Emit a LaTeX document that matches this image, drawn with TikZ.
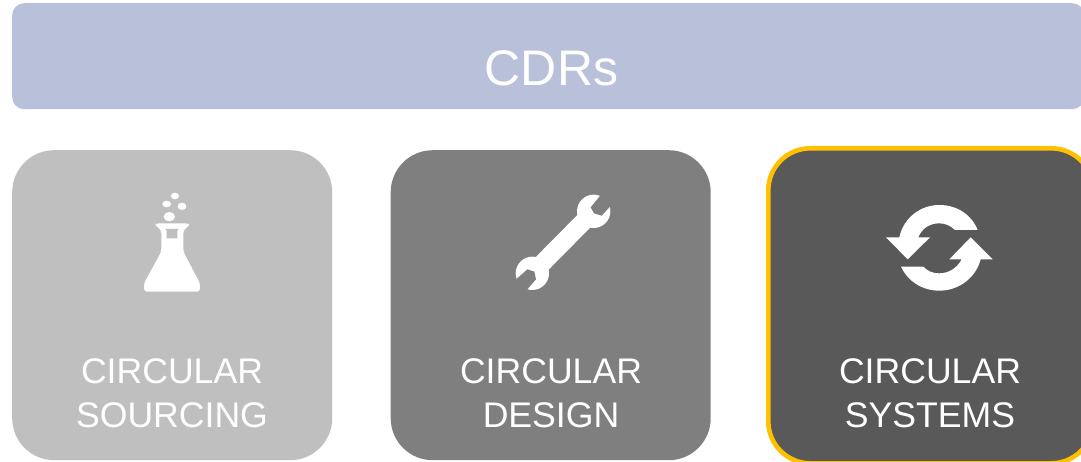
\documentclass[tikz,border=0pt]{standalone}
\usepackage{fontspec}
\setmainfont{Liberation Sans}
\definecolor{barc}{HTML}{B9C1DA}
\definecolor{lightc}{HTML}{BFBFBF}
\definecolor{midc}{HTML}{7F7F7F}
\definecolor{darkc}{HTML}{595959}
\definecolor{goldc}{HTML}{FFC000}
\tikzset{
  panel/.style={rounded corners=42pt,minimum width=320pt,minimum height=310pt,inner sep=0pt,anchor=north west},
  topbar/.style={rounded corners=12pt,fill=barc,minimum width=1072pt,minimum height=106pt,inner sep=0pt,anchor=north west},
  captext/.style={text=white,align=center,inner sep=0pt,font=\fontsize{35.6}{44}\selectfont},
  titletext/.style={text=white,inner sep=0pt,anchor=base,font=\fontsize{50}{60}\selectfont},
  icon/.style={fill=white,draw=none}
}
\begin{document}
\begin{tikzpicture}[x=1pt,y=-1pt]
\useasboundingbox (0,0) rectangle (1081,462);
\clip (0,0) rectangle (1081,462);
\node[topbar] (top) at (12,3) {};
\node[titletext] (cdrs) at (551.5,86) {CDRs};
\node[panel,fill=lightc] (p1) at (12,150) {};
\node[panel,fill=midc] (p2) at (390.5,150) {};
\node[panel,fill=darkc,draw=goldc,line width=4.6pt,minimum width=325pt,minimum height=315pt] (p3) at (766,146) {};
\node[captext] (c1) at (172,393) {CIRCULAR\\SOURCING};
\node[captext] (c2) at (551,393) {CIRCULAR\\DESIGN};
\node[captext] (c3) at (930,393) {CIRCULAR\\SYSTEMS};
% flask
\begin{scope}[shift={(120,180)},x=0.3333pt,y=-0.3333pt]
\fill[icon] (165,48) ellipse (12 and 10);
\fill[icon] (140,72) ellipse (13 and 10);
\fill[icon] (186,79) ellipse (13 and 11);
\fill[icon] (148,110) ellipse (17 and 14);
\fill[icon,rounded corners=3pt] (107,130) -- (207,130) -- (207,138) -- (190,150) -- (190,215) -- (240,310) -- (240,335) -- (72,335) -- (72,310) -- (124,215) -- (124,150) -- (107,138) -- cycle;
\fill[lightc] (136,147) -- (176,147) -- (172,152) -- (172,175) -- (140,175) -- (140,152) -- cycle;
\end{scope}
% wrench
\begin{scope}[shift={(500,180)},x=0.3333pt,y=-0.3333pt]
\draw[white,line width=18pt] (97,280) -- (282,93);
\fill[icon] (281,94) circle (50);
\fill[icon] (97,280) circle (50);
\fill[midc] (308,38) -- (272,82) -- (282,100) -- (305,107) -- (345,64) -- (345,38) -- cycle;
\fill[midc] (35,310) -- (82,268) -- (103,275) -- (108,298) -- (70,342) -- (35,342) -- cycle;
\end{scope}
% cycle arrows
\begin{scope}[shift={(870,190)},x=0.3333pt,y=-0.3333pt]
\fill[icon] (48,142) -- (88,142) .. controls (100,85) and (150,45) .. (208,45) .. controls (262,45) and (305,75) .. (323,120) -- (255,120) .. controls (240,106) and (225,100) .. (208,100) .. controls (178,100) and (155,116) .. (145,142) -- (180,142) -- (113,208) -- cycle;
\fill[icon] (368,208) -- (332,208) .. controls (318,262) and (268,302) .. (208,302) .. controls (155,302) and (112,272) .. (93,230) -- (160,230) .. controls (172,243) and (188,250) .. (207,250) .. controls (238,250) and (262,233) .. (275,208) -- (238,208) -- (302,142) -- cycle;
\end{scope}
\end{tikzpicture}
\end{document}
